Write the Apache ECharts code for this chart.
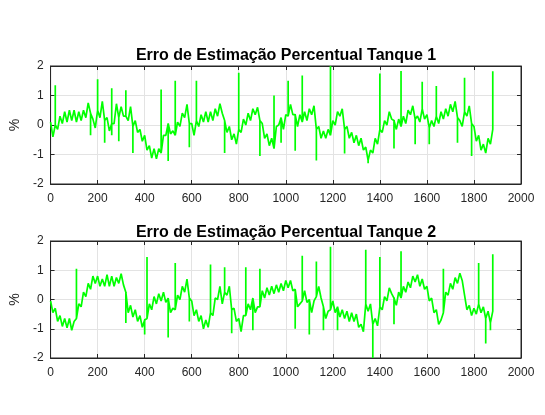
<!DOCTYPE html>
<html>
<head>
<meta charset="utf-8">
<script src="https://cdn.jsdelivr.net/npm/echarts@6/dist/echarts.min.js"></script>
<style>
  html, body { margin: 0; padding: 0; background: #fff; }
  #chart { width: 545px; height: 415px; }
</style>
</head>
<body>
<div id="chart"></div>
<script>
  var step = 10
  var tanque1 = [
    0.1, -0.4, 0.0, -0.15, 0.3, 0.05, 0.45, 0.1, 0.5, 0.15,
    0.5, 0.1, 0.45, 0.15, 0.5, 0.25, 0.75, 0.4, 0.2, -0.1,
    0.5, 0.25, 0.8, 0.15, 0.25, -0.2, 0.05, 0.05, 0.72, 0.25,
    0.62, 0.3, 0.3, 0.15, 0.62, -0.05, 0.15, -0.25, -0.15, -0.55,
    -0.35, -0.85, -0.7, -1.12, -0.8, -1.15, -0.8, -0.95, -0.35, -0.35,
    0.05, -0.3, -0.2, -0.35, 0.1, -0.05, 0.4, 0.25, 0.7, 0.05,
    0.05, -0.35, 0.15, -0.05, 0.35, 0.1, 0.45, 0.1, 0.45, 0.15,
    0.55, 0.3, 0.72, 0.4, 0.15, -0.25, -0.05, -0.5, -0.3, -0.65,
    -0.15, -0.25, 0.2, 0.0, 0.4, 0.15, 0.55, 0.35, 0.6, 0.15,
    0.05, -0.45, -0.3, -0.7, -0.45, -0.8, -0.05, 0.0, 0.25, -0.15,
    0.35, 0.3, 0.7, 0.35, 0.35, -0.05, 0.35, 0.1, 0.45, 0.15,
    0.55, 0.35, 0.65, -0.15, -0.05, -0.45, -0.2, -0.45, -0.15, -0.35,
    0.15, 0.0, 0.45, 0.3, 0.55, -0.15, -0.05, -0.45, -0.25, -0.6,
    -0.35, -0.7, -0.45, -0.85, -0.75, -1.2, -0.85, -0.95, -0.45, -0.65,
    -0.15, -0.25, 0.15, 0.0, 0.45, 0.2, 0.15, -0.15, 0.2, -0.05,
    0.3, 0.05, 0.5, 0.35, 0.65, 0.2, 0.3, 0.1, 0.55, 0.2,
    0.35, -0.1, 0.15, -0.05, 0.3, 0.05, 0.45, 0.2, 0.55, 0.3,
    0.7, 0.45, 0.8, 0.25, 0.15, -0.05, 0.45, 0.3, 0.65, 0.05,
    -0.05, -0.55, -0.35, -0.85, -0.65, -0.95, -0.45, -0.65, -0.15
  ]
  var picos1X = [17, 166, 197, 227, 256, 259, 286, 317, 347, 466, 497, 526, 588, 615, 737, 798, 887, 947, 977, 1007, 1038, 1067, 1128, 1189, 1248, 1354, 1399, 1460, 1488, 1550, 1580, 1608, 1639, 1728, 1757, 1788, 1877]
  var picos1Y = [1.35, -0.35, 1.55, -0.6, 1.25, -0.35, -0.55, 1.18, -0.95, 1.2, -1.22, 1.5, -0.75, 1.5, -0.95, 1.77, -1.05, 1.0, -0.6, 1.5, -0.87, 1.68, -1.2, 2.0, -0.97, -1.3, 1.75, -0.8, 1.83, -0.65, 1.47, -0.65, 1.32, -0.6, 1.6, -1.05, 1.82]

  var tanque2 = [
    -0.05, -0.45, -0.3, -0.75, -0.55, -0.92, -0.65, -0.97, -0.65, -1.05,
    -0.75, -0.65, -0.15, -0.25, 0.25, 0.1, 0.55, 0.35, 0.8, 0.55,
    0.8, 0.45, 0.7, 0.45, 0.85, 0.45, 0.8, 0.45, 0.75, 0.55,
    0.88, 0.5, 0.25, -0.45, -0.2, -0.6, -0.35, -0.75, -0.55, -0.95,
    -0.7, -0.65, -0.15, -0.35, 0.1, -0.15, 0.2, -0.05, 0.25, -0.1,
    0.05, -0.45, -0.3, -0.35, 0.15, 0.0, 0.45, 0.25, 0.7, 0.05,
    -0.05, -0.55, -0.35, -0.75, -0.55, -1.0, -0.7, -0.95, -0.45, -0.55,
    0.05, 0.0, 0.45, -0.15, 0.25, 0.15, 0.45, -0.35, -0.3, -0.75,
    -0.65, -1.1, -0.55, -0.55, -0.15, -0.35, 0.05, -0.45, -0.25, -0.25,
    0.3, 0.05, 0.4, 0.15, 0.45, 0.2, 0.5, 0.25, 0.55, 0.3,
    0.65, 0.4, 0.65, 0.3, 0.35, -0.25, -0.15, -0.05, 0.3, -0.1,
    0.0, -0.45, -0.05, 0.1, 0.45, 0.05, -0.25, -0.65, -0.4, -0.35,
    -0.05, -0.45, -0.25, -0.6, -0.35, -0.65, -0.4, -0.75, -0.45, -0.75,
    -0.5, -0.95, -0.85, -1.1, -0.15, -0.4, -0.15, -0.85, -0.65, -0.9,
    -0.25, -0.35, 0.1, -0.05, 0.4, 0.2, 0.05, -0.2, 0.25, 0.05,
    0.45, 0.25, 0.6, 0.4, 0.8, 0.6, 0.85, 0.45, 0.7, 0.35,
    0.45, -0.05, 0.05, -0.45, -0.35, -0.85, -0.7, -0.45, 0.25, 0.15,
    0.55, 0.35, 0.75, 0.55, 0.9, 0.65, 0.15, -0.35, -0.2, -0.55,
    -0.3, -0.5, -0.15, -0.45, -0.25, -0.65, -0.4, -0.8, -0.4
  ]
  var picos2X = [106, 317, 399, 406, 497, 526, 588, 677, 737, 768, 828, 856, 888, 1038, 1068, 1097, 1127, 1156, 1189, 1220, 1340, 1368, 1396, 1460, 1488, 1668, 1820, 1847, 1868, 1878]
  var picos2Y = [1.05, -0.8, -1.2, 1.45, -1.3, 1.25, -0.75, 1.2, 1.1, -1.15, 1.1, -1.05, 1.05, -1.0, 1.5, -1.2, 1.3, -1.05, 1.8, -1.05, 1.7, -2.0, 1.45, -0.85, 1.65, 1.05, 1.25, -1.5, -1.05, 1.55]

  var titulos = ['Erro de Estimação Percentual Tanque 1', 'Erro de Estimação Percentual Tanque 2']

  // amostras regulares; cada pico sai vertical da amostra mais próxima e volta a ela
  function montar(base, px, py) {
    var pts = []
    base.forEach(function (v, i) {
      pts.push([i * step, v])
      px.forEach(function (x, j) {
        if (Math.round(x / step) === i) {
          pts.push([i * step, py[j]])
          pts.push([i * step, v])
        }
      })
    })
    return pts
  }

  var chart = echarts.init(document.getElementById('chart'))
  var fonte = 'Liberation Sans, Arial, Helvetica, sans-serif'
  var eixoCor = '#262626'
  var grids = [
    { left: 48, right: 24, top: 66, height: 118 },
    { left: 48, right: 24, top: 241, height: 117 }
  ]
  var linhaEixo = { show: true, onZero: false, lineStyle: { color: eixoCor } }
  var marcas = { show: true, inside: true, length: 4, lineStyle: { color: eixoCor } }
  var xAxes = [], yAxes = []
  grids.forEach(function (g, k) {
    g.show = true
    g.borderColor = eixoCor
    g.borderWidth = 1
    // eixo de baixo com rótulos
    xAxes.push({
      type: 'value', gridIndex: k, min: 0, max: 2000, interval: 200,
      axisLine: linhaEixo, axisTick: marcas,
      axisLabel: { color: eixoCor, fontSize: 12, fontFamily: fonte, margin: 9,
        formatter: function (v) { return String(v) } },
      splitLine: { show: true, lineStyle: { color: '#e3e3e3' } }
    })
    // eixo de cima, só marcas
    xAxes.push({
      type: 'value', gridIndex: k, position: 'top', min: 0, max: 2000, interval: 200,
      axisLine: linhaEixo, axisTick: marcas,
      axisLabel: { show: false }, splitLine: { show: false }
    })
    yAxes.push({
      type: 'value', gridIndex: k, min: -2, max: 2, interval: 1,
      name: '%', nameLocation: 'middle', nameGap: 28, nameRotate: 90,
      nameTextStyle: { color: eixoCor, fontSize: 14, fontFamily: fonte },
      axisLine: linhaEixo, axisTick: marcas,
      axisLabel: { color: eixoCor, fontSize: 12, fontFamily: fonte, margin: 7 },
      splitLine: { show: true, lineStyle: { color: '#e3e3e3' } }
    })
    yAxes.push({
      type: 'value', gridIndex: k, position: 'right', min: -2, max: 2, interval: 1,
      axisLine: linhaEixo, axisTick: marcas,
      axisLabel: { show: false }, splitLine: { show: false }
    })
  })

  var option = {
    animation: false,
    title: [
      { text: titulos[0], left: 281, top: 43, textAlign: 'center',
        textStyle: { fontSize: 16, fontWeight: 'bold', color: '#000', fontFamily: fonte } },
      { text: titulos[1], left: 281, top: 220, textAlign: 'center',
        textStyle: { fontSize: 16, fontWeight: 'bold', color: '#000', fontFamily: fonte } }
    ],
    grid: grids,
    xAxis: xAxes,
    yAxis: yAxes,
    series: [
      {
        type: 'line', xAxisIndex: 0, yAxisIndex: 0, showSymbol: false,
        lineStyle: { color: '#00ff00', width: 1.7 },
        data: montar(tanque1, picos1X, picos1Y)
      },
      {
        type: 'line', xAxisIndex: 2, yAxisIndex: 2, showSymbol: false,
        lineStyle: { color: '#00ff00', width: 1.7 },
        data: montar(tanque2, picos2X, picos2Y)
      }
    ]
  }
  chart.setOption(option)
</script>
</body>
</html>
